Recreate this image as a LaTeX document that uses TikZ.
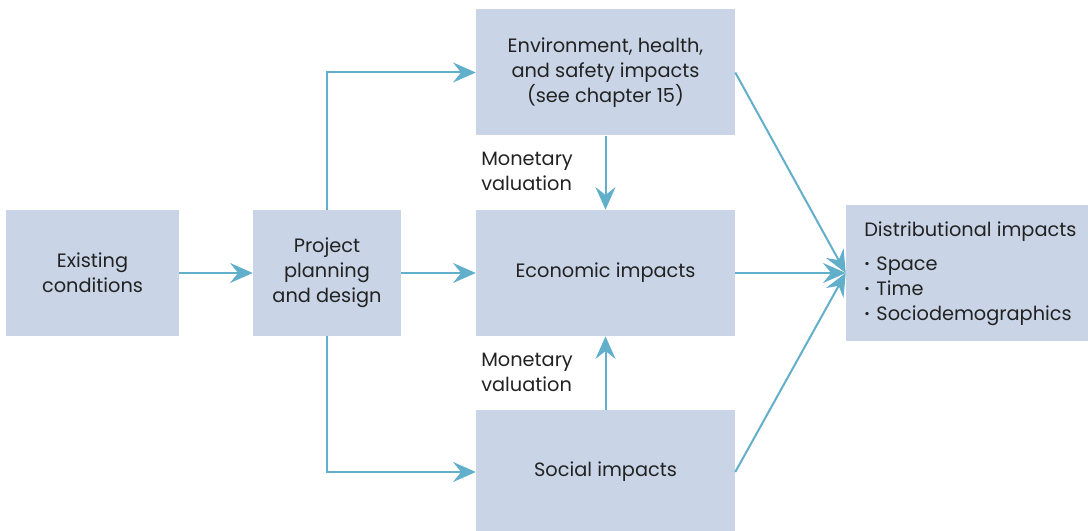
\documentclass[tikz,border=0pt]{standalone}
\usepackage{fontspec}
\setmainfont{Poppins}
\usetikzlibrary{arrows.meta}
\definecolor{boxblue}{HTML}{C9D5E6}
\definecolor{flowblue}{HTML}{62AFCB}
\definecolor{inkgrey}{HTML}{222222}
\newcommand{\smallbul}{\raisebox{1.5pt}{\fontsize{10}{10}\selectfont\textbullet}\hspace{5pt}}

\begin{document}
\begin{tikzpicture}[x=0.75pt, y=-0.75pt,
  every node/.style={font=\fontsize{14.5}{18.75}\selectfont, text=inkgrey},
  box/.style={fill=boxblue, align=center, inner sep=0pt, minimum height=94.5pt},
  flow/.style={draw=flowblue, line width=1.5pt, -{Stealth[length=17pt, width=15pt, inset=6pt]}}]
  \useasboundingbox (0,0) rectangle (1088,531);
  % boxes
  \node[box, minimum width=129.75pt] (exist) at (92.5,273) {Existing\\conditions};
  \node[box, minimum width=111pt] (proj) at (327,273) {Project\\planning\\and design};
  \node[box, minimum width=194.25pt] (env) at (605.5,72.5) {Environment, health,\\and safety impacts\\(see chapter 15)};
  \node[box, minimum width=194.25pt] (econ) at (605.5,273) {Economic impacts};
  \node[box, minimum width=194.25pt, minimum height=93pt] (soc) at (605.5,472) {Social impacts};
  \node[box, minimum width=181.5pt, minimum height=102pt] (dist) at (967,273) {};
  \node[anchor=west, align=left, inner sep=0pt] (distext) at (864,273.5)
    {Distributional impacts\\[7pt] \smallbul Space\\ \smallbul Time\\ \smallbul Sociodemographics};
  % labels
  \node[anchor=west, align=left, inner sep=0pt] (mv1) at (481,171) {Monetary\\valuation};
  \node[anchor=west, align=left, inner sep=0pt] (mv2) at (481,372) {Monetary\\valuation};
  % connectors
  \draw[flow] (exist) -- (proj);
  \draw[flow] (proj) -- (econ);
  \draw[flow] (proj.north) |- (env.west);
  \draw[flow] (proj.south) |- (soc.west);
  \draw[flow] (env) -- (econ);
  \draw[flow] (soc) -- (econ);
  \draw[flow] (env.east) -- (dist.west);
  \draw[flow] (econ.east) -- (dist.west);
  \draw[flow] (soc.east) -- (dist.west);
\end{tikzpicture}
\end{document}
